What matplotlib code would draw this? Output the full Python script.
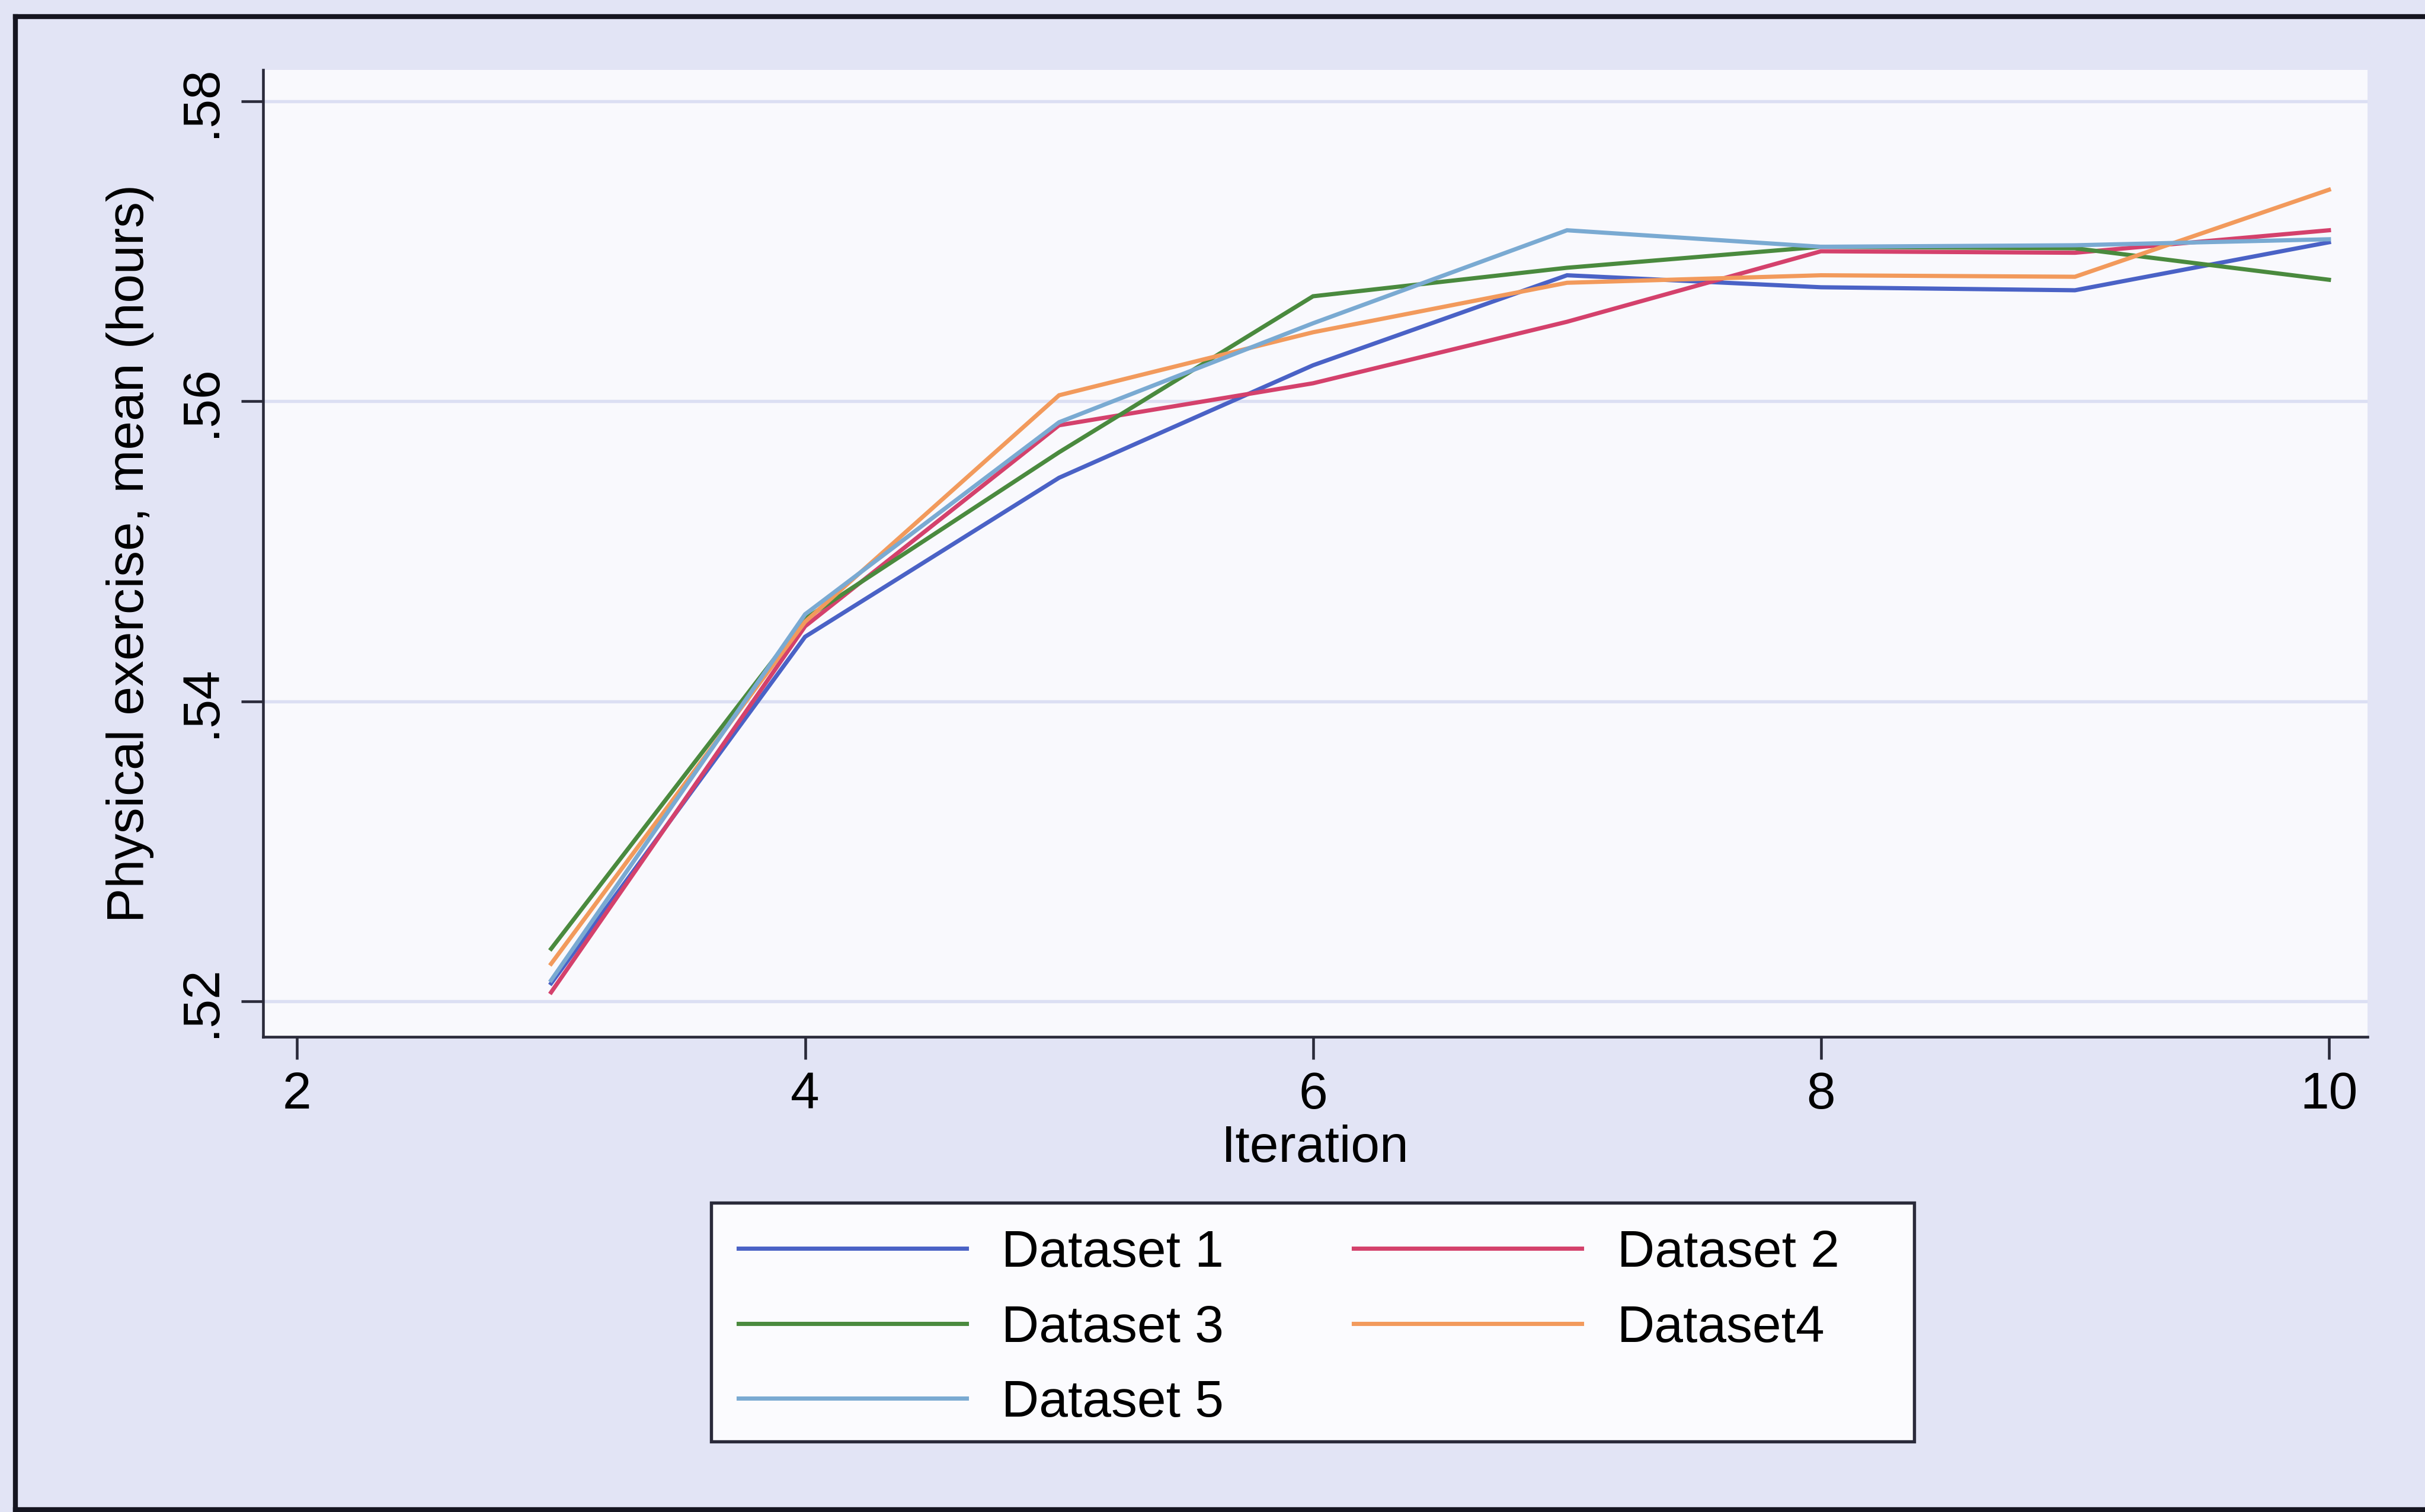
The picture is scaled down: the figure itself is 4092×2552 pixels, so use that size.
import matplotlib
matplotlib.use("Agg")
import matplotlib.pyplot as plt
from matplotlib.patches import Rectangle
from matplotlib.lines import Line2D

plt.rcParams['font.family'] = ['Liberation Sans', 'DejaVu Sans']

# ---- data ----
iterations = [3, 4, 5, 6, 7, 8, 9, 10]
dataset_1 = [0.5212, 0.5443, 0.5549, 0.5624, 0.5684, 0.5676, 0.5674, 0.5706]
dataset_2 = [0.5206, 0.5450, 0.5584, 0.5612, 0.5653, 0.5700, 0.5699, 0.5714]
dataset_3 = [0.5235, 0.5455, 0.5566, 0.5670, 0.5689, 0.5703, 0.5702, 0.5681]
dataset_4 = [0.5225, 0.5453, 0.5604, 0.5646, 0.5679, 0.5684, 0.5683, 0.5741]
dataset_5 = [0.5214, 0.5458, 0.5586, 0.5652, 0.5714, 0.5703, 0.5704, 0.5708]
series_labels = ["Dataset 1", "Dataset 2", "Dataset 3", "Dataset4", "Dataset 5"]
series_colors = ["#4a62c6", "#d4416c", "#4a8a3e", "#f29a5c", "#7aaad2"]

xticks = [2, 4, 6, 8, 10]
xtick_labels = ["2", "4", "6", "8", "10"]
yticks = [0.52, 0.54, 0.56, 0.58]
ytick_labels = [".52", ".54", ".56", ".58"]

x_label = "Iteration"
y_label = "Physical exercise, mean (hours)"

# ---- figure ----
W, H = 4092, 2552
DPI = 300
FS = 21
fig = plt.figure(figsize=(W / DPI, H / DPI), dpi=DPI)
fig.patch.set_facecolor("#e2e4f5")

L, R, T, B = 444, 3995, 118, 1750
ax = fig.add_axes([L / W, 1 - B / H, (R - L) / W, (B - T) / H])
ax.set_facecolor("#f9f9fd")

all_series = [dataset_1, dataset_2, dataset_3, dataset_4, dataset_5]
for vals, lab, col in zip(all_series, series_labels, series_colors):
    ax.plot(iterations, vals, color=col, lw=1.7, label=lab, solid_joinstyle="miter")

ax.set_xlim(1.866, 10.152)
ax.set_ylim(0.51763, 0.58209)

ax.set_xticks(xticks)
ax.set_xticklabels(xtick_labels, fontsize=FS)
ax.set_yticks(yticks)
ax.set_yticklabels(ytick_labels, fontsize=FS, rotation=90, va="center")

ax.grid(axis="y", color="#dcdff3", lw=1.3)
ax.set_axisbelow(True)

for s in ["top", "right"]:
    ax.spines[s].set_visible(False)
for s in ["left", "bottom"]:
    ax.spines[s].set_color("#2a2a3a")
    ax.spines[s].set_linewidth(1.1)

ax.tick_params(axis="both", direction="out", length=9, width=1.1, color="#2a2a3a")
ax.tick_params(axis="x", pad=5)
ax.tick_params(axis="y", pad=6)

ax.set_xlabel(x_label, fontsize=FS, labelpad=2)
ax.set_ylabel(y_label, fontsize=FS)
ax.yaxis.set_label_coords((219 - L) / (R - L), 0.5)
ax.yaxis.label.set_va("center")

# legend frame
lx0, lx1, ly0, ly1 = 1200, 3230, 2030, 2433
fig.patches.append(Rectangle((lx0 / W, 1 - ly1 / H), (lx1 - lx0) / W, (ly1 - ly0) / H,
                             transform=fig.transFigure, facecolor="#fbfbfe",
                             edgecolor="#2a2a3a", lw=1.3, zorder=1))

handles, labels = ax.get_legend_handles_labels()
order = [0, 2, 4, 1, 3]  # row-wise layout: D1 D2 / D3 D4 / D5
leg = fig.legend([handles[i] for i in order], [labels[i] for i in order],
                 ncol=2, loc="upper left",
                 bbox_to_anchor=(1246 / W, 1 - 2075 / H),
                 frameon=False, fontsize=FS, borderpad=0, borderaxespad=0,
                 handlelength=4.4, handletextpad=0.68, columnspacing=2.5,
                 labelspacing=0.52)
leg.set_zorder(2)

# outer frame
fig.lines.append(Line2D([26 / W, 26 / W], [0.0015, 1 - 28 / H], transform=fig.transFigure,
                        color="#151520", lw=2.0))
fig.lines.append(Line2D([26 / W, 1.0], [1 - 28 / H, 1 - 28 / H], transform=fig.transFigure,
                        color="#151520", lw=2.0))
fig.lines.append(Line2D([26 / W, 1.0], [0.0015, 0.0015], transform=fig.transFigure,
                        color="#151520", lw=2.0))

fig.savefig("out.png", dpi=DPI, facecolor=fig.get_facecolor())
